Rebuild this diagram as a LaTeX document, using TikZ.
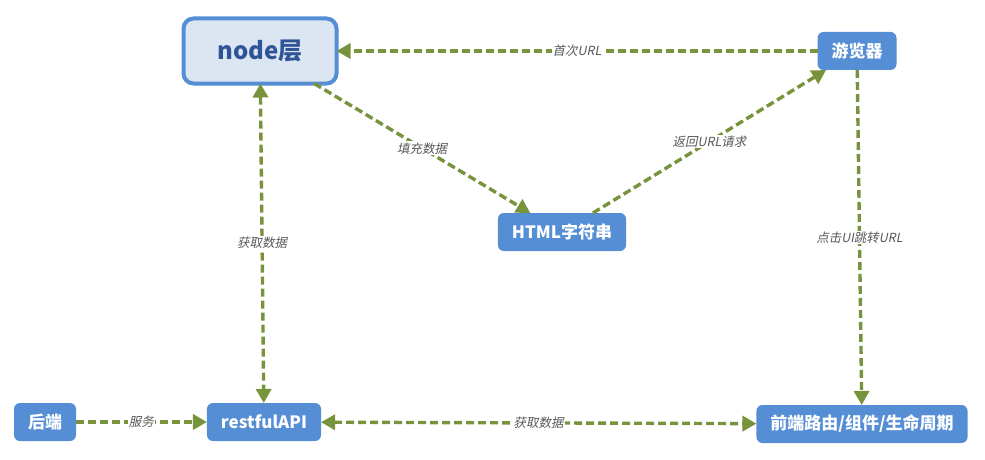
\documentclass[tikz,border=0pt]{standalone}
\usepackage{fontspec}
\setmainfont{Noto Sans CJK SC}
\newfontfamily\slantfont{Noto Sans CJK SC}[FakeSlant=0.2]
\usepackage{tkz-graph}
\usetikzlibrary{arrows.meta}
\definecolor{boxblue}{HTML}{558ED5}
\definecolor{layerfill}{HTML}{DCE6F2}
\definecolor{layertext}{HTML}{2F5597}
\definecolor{linkgreen}{HTML}{77933C}
\definecolor{labelgray}{HTML}{595959}

\begin{document}
\begin{tikzpicture}[x=1pt,y=-1pt]
    \useasboundingbox (0,0) rectangle (985,460);
    \GraphInit[vstyle=Normal]
    \SetUpEdge[lw=3.4pt,color=linkgreen]
    \tikzset{
      pagebox/.style={shape=rectangle, draw=none, fill=boxblue, rounded corners=6pt,
        text=white, font=\bfseries\fontsize{17}{19}\selectfont,
        minimum height=38pt, inner xsep=14pt, inner ysep=0pt},
      layerbox/.style={shape=rectangle, draw=boxblue, line width=4pt, fill=layerfill,
        rounded corners=10pt, text=layertext, font=\bfseries\fontsize{24}{28}\selectfont,
        minimum width=153pt, minimum height=65pt},
      >={Triangle[length=14pt,width=15pt]},
      EdgeStyle/.style={->, draw=linkgreen, line width=3.4pt,
        dash pattern=on 8pt off 4pt},
      LabelStyle/.style={fill=white, text=labelgray, inner sep=1pt,
        font=\slantfont\fontsize{12.5}{14}\selectfont}
    }
    \tikzset{VertexStyle/.style=layerbox}
    \Vertex[x=260,y=51,L={node层}]{nodelayer}
    \tikzset{VertexStyle/.style=pagebox}
    \Vertex[x=857,y=51,L={游览器}]{browser}
    \Vertex[x=562,y=232,L={HTML字符串}]{html}
    \Vertex[x=45,y=422,L={后端}]{backend}
    \Vertex[x=264,y=422,L={restfulAPI}]{api}
    \Vertex[x=862,y=424,L={前端路由/组件/生命周期}]{frontend}

    \Edge[label=首次URL](browser)(nodelayer)
    \Edge[label=填充数据](nodelayer)(html)
    \Edge[label=返回URL请求](html)(browser)
    \Edge[label=点击UI跳转URL](browser)(frontend)
    \Edge[label=服务](backend)(api)
    % two-way links
    \tikzset{EdgeStyle/.append style={<->}}
    \Edge[label=获取数据](nodelayer)(api)
    \Edge[label=获取数据](api)(frontend)
\end{tikzpicture}
\end{document}
